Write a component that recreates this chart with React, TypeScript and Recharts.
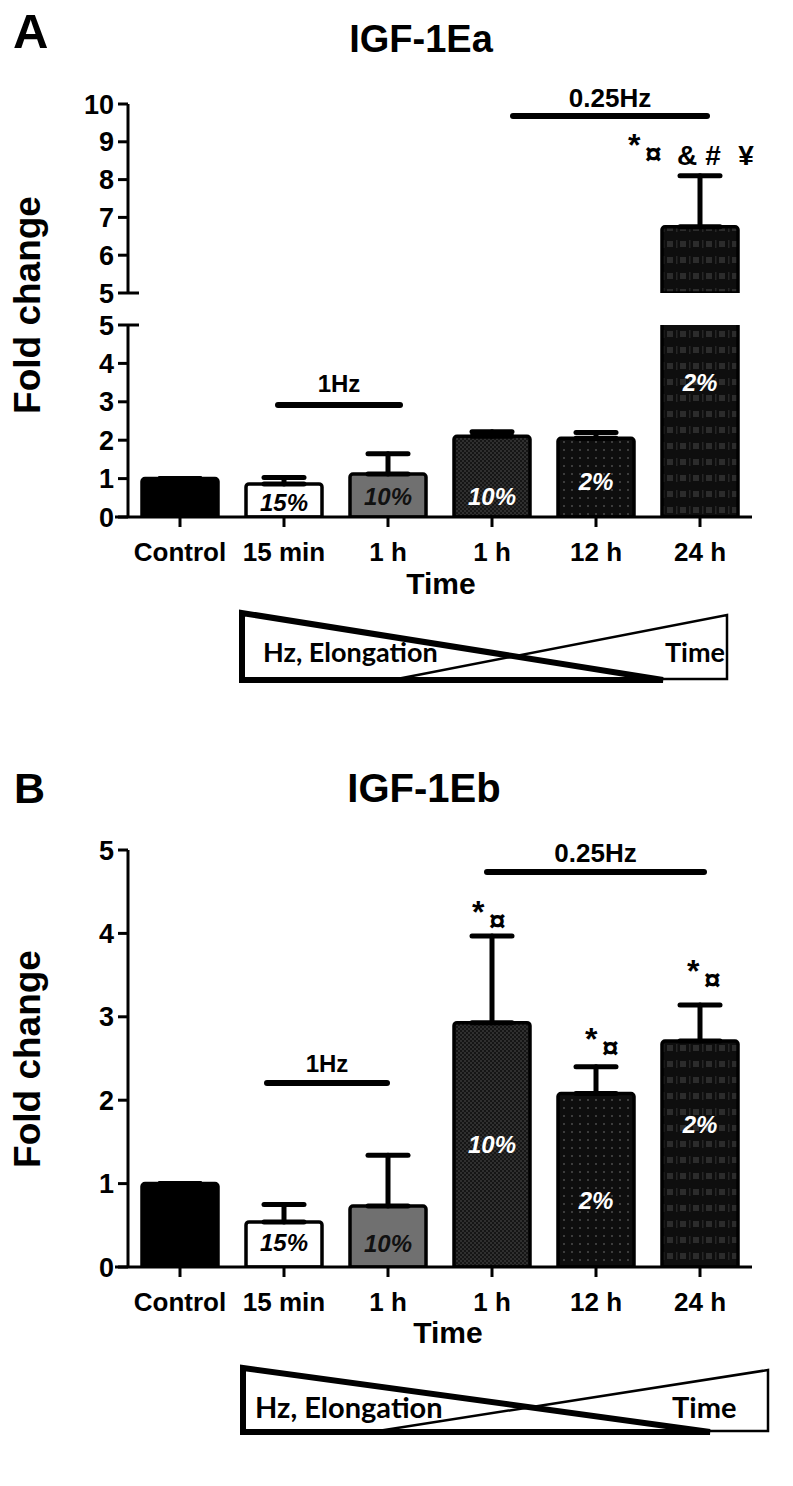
import React from 'react';
import { BarChart, Bar, XAxis, YAxis, ErrorBar, Cell, LabelList } from 'recharts';

// groups on the x axis (1 Hz: 15 min / 1 h, 0.25 Hz: 1 h / 12 h / 24 h)
const categories = ['Control', '15 min', '1 h', '1 h', '12 h', '24 h'];
const elongations = ['', '15%', '10%', '10%', '2%', '2%'];

// IGF-1Ea fold change, mean and upper error
const eaMean = [1.0, 0.86, 1.12, 2.1, 2.05, 6.75];
const eaErr = [0, 0.17, 0.53, 0.12, 0.15, 1.35];

// IGF-1Eb fold change, mean and upper error
const ebMean = [1.0, 0.54, 0.73, 2.93, 2.08, 2.71];
const ebErr = [0, 0.21, 0.61, 1.04, 0.32, 0.43];

const eaLowTicks = [0, 1, 2, 3, 4, 5];
const eaHighTicks = [5, 6, 7, 8, 9, 10];
const ebTicks = [0, 1, 2, 3, 4, 5];

const build = (mean: number[], err: number[]) =>
  categories.map((name, i) => ({ key: 'c' + i, name, mean: mean[i], err: [0, err[i]], pct: elongations[i] }));

const eaData = build(eaMean, eaErr);
const ebData = build(ebMean, ebErr);

const PLOT_LEFT = 128;
const PLOT_RIGHT = 752;
const BAND = (PLOT_RIGHT - PLOT_LEFT) / categories.length;
const Y_W = 60;
const FONT = "'Liberation Sans', Arial, Helvetica, sans-serif";

const barFills = ['#000', '#fff', '#707070', 'url(#pChk)', 'url(#pDot)', 'url(#pGrid)'];
const pctColors = ['#fff', '#000', '#111', '#fff', '#fff', '#fff'];

const axisStyle = { stroke: '#000', strokeWidth: 3 };

function Patterns() {
  return (
    <defs>
      <pattern id="pChk" width="4" height="4" patternUnits="userSpaceOnUse">
        <rect width="4" height="4" fill="#151515" />
        <rect width="2" height="2" fill="#2f2f2f" />
        <rect x="2" y="2" width="2" height="2" fill="#2f2f2f" />
      </pattern>
      <pattern id="pDot" width="8" height="8" patternUnits="userSpaceOnUse">
        <rect width="8" height="8" fill="#0e0e0e" />
        <rect x="3" y="3" width="2" height="2" fill="#3c3c3c" />
      </pattern>
      <pattern id="pGrid" width="13" height="16" patternUnits="userSpaceOnUse">
        <rect width="13" height="16" fill="#0e0e0e" />
        <rect x="4" y="5" width="6" height="6" fill="#2c2c2c" />
        <rect x="0" y="4" width="1.5" height="8" fill="#262626" />
      </pattern>
    </defs>
  );
}

const pctLabel = (shift: number[], clipTop: number) => (props: any) => {
  const vb = props.viewBox && props.viewBox.width !== undefined ? props.viewBox : props;
  const { x, y, width, height } = vb;
  const cx = x + width / 2;
  const idx = Math.floor((cx - PLOT_LEFT) / BAND);
  const text = elongations[idx];
  if (!text) return null;
  const t = Math.max(Math.min(y, y + height), clipTop);
  const b = Math.max(y, y + height);
  return (
    <text x={cx} y={(t + b) / 2 + shift[idx]} textAnchor="middle" dominantBaseline="central"
      fontSize={24} fontWeight={700} fontStyle="italic" fill={pctColors[idx]}>
      {text}
    </text>
  );
};

type ChartProps = {
  data: any[];
  top: number;
  height: number;
  plotTop: number;
  plotBottom: number;
  domain: [number, number];
  ticks: number[];
  showX: boolean;
  shift?: number[];
};

function Panel({ data, top, height, plotTop, plotBottom, domain, ticks, showX, shift }: ChartProps) {
  const xH = showX ? 40 : 0;
  const margin = {
    top: plotTop - top,
    left: PLOT_LEFT - Y_W,
    right: 793 - PLOT_RIGHT,
    bottom: top + height - plotBottom - xH,
  };
  return (
    <div style={{ position: 'absolute', left: 0, top }}>
      <BarChart width={793} height={height} data={data} margin={margin}>
        <Patterns />
        <XAxis dataKey="key" hide={!showX} height={xH} axisLine={axisStyle} tickLine={axisStyle}
          tickSize={10} tickMargin={16} interval={0}
          tick={{ fill: '#000', fontSize: 26, fontWeight: 700 }}
          tickFormatter={(_v: any, i: number) => categories[i]} />
        <YAxis type="number" domain={domain} ticks={ticks} allowDataOverflow width={Y_W}
          axisLine={axisStyle} tickLine={axisStyle} tickSize={10} tickMargin={4} interval={0}
          tick={{ fill: '#000', fontSize: 27, fontWeight: 700 }} />
        <Bar dataKey="mean" barSize={76} stroke="#000" strokeWidth={3.5} radius={[3, 3, 0, 0]} isAnimationActive={false}>
          {data.map((d, i) => {
            const out = d.mean <= domain[0];
            return <Cell key={i} fill={out ? 'none' : barFills[i]} stroke={out ? 'none' : '#000'} />;
          })}
          <ErrorBar dataKey="err" direction="y" width={20} stroke="#000" strokeWidth={5} strokeLinecap="round" isAnimationActive={false} />
          {shift && <LabelList dataKey="pct" content={pctLabel(shift, plotTop - top)} />}
        </Bar>
      </BarChart>
    </div>
  );
}

function Sig({ x, top }: { x: number; top: number }) {
  return (
    <g>
      <text x={x} y={top + 23} fontSize={32} fontWeight={700}>*</text>
      <text x={x + 17} y={top + 31} fontSize={30} fontWeight={700}>¤</text>
    </g>
  );
}

function Bracket({ x1, x2, y, label, size, ty }: { x1: number; x2: number; y: number; label: string; size: number; ty: number }) {
  return (
    <g>
      <line x1={x1} x2={x2} y1={y} y2={y} stroke="#000" strokeWidth={6} strokeLinecap="round" />
      <text x={(x1 + x2) / 2} y={ty} textAnchor="middle" fontSize={size} fontWeight={700}>{label}</text>
    </g>
  );
}

function Overlay() {
  const box = "Lato, 'Open Sans', sans-serif";
  return (
    <svg width={793} height={1486} style={{ position: 'absolute', left: 0, top: 0, pointerEvents: 'none' }}
      fontFamily={FONT}>
      {/* panel A */}
      <text x={13} y={48} fontSize={49} fontWeight={700}>A</text>
      <text x={421} y={52} textAnchor="middle" fontSize={38} fontWeight={700}>IGF-1Ea</text>
      <text transform="translate(40,305) rotate(-90)" textAnchor="middle" fontSize={37} fontWeight={700}>Fold change</text>
      <text x={441} y={594} textAnchor="middle" fontSize={30} fontWeight={700}>Time</text>
      <line x1={128} x2={139} y1={293} y2={293} stroke="#000" strokeWidth={3} />
      <line x1={128} x2={139} y1={325} y2={325} stroke="#000" strokeWidth={3} />
      <line x1={115} x2={128} y1={517} y2={517} stroke="#000" strokeWidth={3} />
      <Bracket x1={278} x2={400} y={405} label="1Hz" size={24} ty={392} />
      <Bracket x1={513} x2={707} y={116} label="0.25Hz" size={26} ty={107} />
      <Sig x={628} top={133} />
      <text x={687} y={165} textAnchor="middle" fontSize={28} fontWeight={700}>&amp;</text>
      <text x={713} y={165} textAnchor="middle" fontSize={28} fontWeight={700}>#</text>
      <text x={746} y={165} textAnchor="middle" fontSize={28} fontWeight={700}>¥</text>
      <polygon points="242,613 242,680 663,680" fill="none" stroke="#000" strokeWidth={6} />
      <polygon points="397,679 727,615 727,679" fill="none" stroke="#000" strokeWidth={2.5} />
      <text x={263} y={662} fontSize={27} fontWeight={700} fontFamily={box}>Hz, Elongation</text>
      <text x={665} y={662} fontSize={27} fontWeight={700} fontFamily={box}>Time</text>

      {/* panel B */}
      <text x={14} y={803} fontSize={43} fontWeight={700}>B</text>
      <text x={424} y={802} textAnchor="middle" fontSize={40} fontWeight={700}>IGF-1Eb</text>
      <text transform="translate(40,1059) rotate(-90)" textAnchor="middle" fontSize={37} fontWeight={700}>Fold change</text>
      <text x={448} y={1343} textAnchor="middle" fontSize={30} fontWeight={700}>Time</text>
      <line x1={115} x2={128} y1={1267} y2={1267} stroke="#000" strokeWidth={3} />
      <Bracket x1={267} x2={387} y={1083} label="1Hz" size={24} ty={1072} />
      <Bracket x1={487} x2={704} y={872} label="0.25Hz" size={26} ty={862} />
      <Sig x={472} top={900} />
      <Sig x={585} top={1027} />
      <Sig x={687} top={959} />
      <polygon points="243,1368 243,1432 710,1432" fill="none" stroke="#000" strokeWidth={6} />
      <polygon points="378,1431 768,1370 768,1431" fill="none" stroke="#000" strokeWidth={2.5} />
      <text x={255} y={1418} fontSize={29} fontWeight={700} fontFamily={box}>Hz, Elongation</text>
      <text x={672} y={1418} fontSize={29} fontWeight={700} fontFamily={box}>Time</text>
    </svg>
  );
}

export default function App() {
  return (
    <div style={{ position: 'absolute', left: 0, top: 0, width: 793, height: 1486, background: '#fff', fontFamily: FONT, overflow: 'hidden' }}>
      <Panel data={eaData} top={60} height={250} plotTop={104} plotBottom={293}
        domain={[5, 10]} ticks={eaHighTicks} showX={false} />
      <Panel data={eaData} top={310} height={290} plotTop={325} plotBottom={517}
        domain={[0, 5]} ticks={eaLowTicks} showX shift={[0, 2, 1.5, 20, 4, -39]} />
      <Panel data={ebData} top={800} height={560} plotTop={850} plotBottom={1267}
        domain={[0, 5]} ticks={ebTicks} showX shift={[0, -1.5, 7, 0, 20, -29]} />
      <Overlay />
    </div>
  );
}
